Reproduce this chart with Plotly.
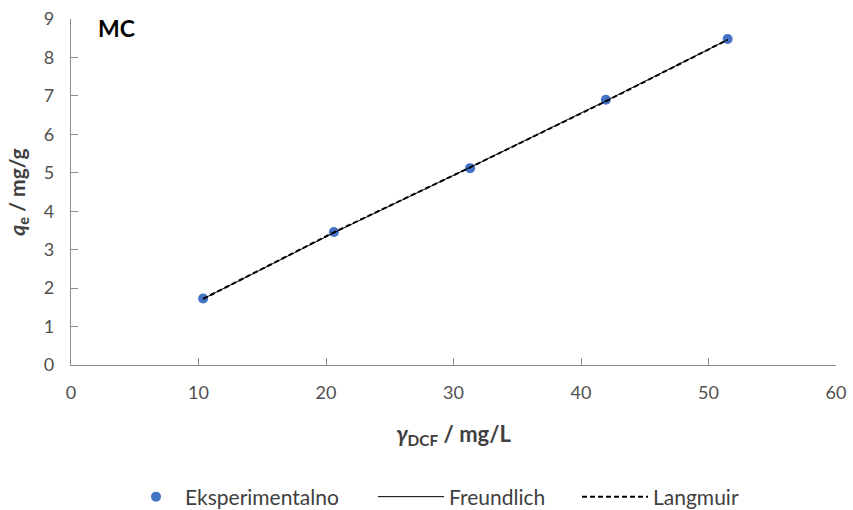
import plotly.graph_objects as go

# Equilibrium concentration of DCF (mg/L) and adsorbed amount (mg/g)
gamma_dcf = [10.36, 20.62, 31.3, 41.95, 51.5]
qe_exp = [1.73, 3.46, 5.12, 6.90, 8.48]

# Model curves evaluated at the same concentrations
qe_freundlich = [1.72, 3.44, 5.14, 6.87, 8.46]
qe_langmuir = [1.72, 3.45, 5.14, 6.86, 8.46]

x_ticks = [0, 10, 20, 30, 40, 50, 60]
y_ticks = [0, 1, 2, 3, 4, 5, 6, 7, 8, 9]

FONT = "Lato, 'Open Sans', sans-serif"
TEXT = "#404040"
TICK_TEXT = "#505050"
AXIS = "#8c8c8c"

fig = go.Figure()
fig.add_trace(go.Scatter(
    x=gamma_dcf, y=qe_exp, mode="markers", name="Eksperimentalno",
    marker=dict(color="#4472C4", size=10), legend="legend",
))
fig.add_trace(go.Scatter(
    x=gamma_dcf, y=qe_freundlich, mode="lines", name="Freundlich",
    line=dict(color="#000000", width=1), legend="legend2",
))
fig.add_trace(go.Scatter(
    x=gamma_dcf, y=qe_langmuir, mode="lines", name="Langmuir",
    line=dict(color="#000000", width=2, dash="5px,3px"), legend="legend3",
))

# plot area spans x 71..836 px, y 19..365 px
L, R, T, B = 71, 836, 19, 365
W, H = 853, 510


def px_x(px):
    return (px - L) / (R - L)


def px_y(py):
    return (B - py) / (B - T)


legend_style = dict(
    orientation="h", yanchor="middle", xanchor="left", y=px_y(497),
    font=dict(size=21, color=TEXT), bgcolor="rgba(0,0,0,0)", borderwidth=0,
)

fig.update_layout(
    width=W, height=H,
    margin=dict(l=L, r=W - R, t=T, b=H - B, autoexpand=False),
    paper_bgcolor="white", plot_bgcolor="white",
    font=dict(family=FONT, color=TEXT, size=18),
    showlegend=True,
    legend=dict(x=px_x(127), itemwidth=48, **legend_style),
    legend2=dict(x=px_x(373), itemwidth=66, **legend_style),
    legend3=dict(x=px_x(577), itemwidth=66, **legend_style),
    xaxis=dict(
        range=[0, 60], tickvals=x_ticks, showgrid=False, zeroline=False,
        showline=True, linecolor=AXIS, linewidth=1.3,
        ticks="inside", ticklen=7, tickcolor=AXIS, tickwidth=1.3,
        tickfont=dict(size=18, color=TICK_TEXT), ticklabelstandoff=11,
        automargin=False,
        title=dict(
            text="<b><i>γ</i><sub>DCF</sub> / mg/L</b>",
            font=dict(size=22, color=TEXT), standoff=24,
        ),
    ),
    yaxis=dict(
        range=[0, 9], tickvals=y_ticks, showgrid=False, zeroline=False,
        showline=True, linecolor=AXIS, linewidth=1.3,
        ticks="inside", ticklen=7, tickcolor=AXIS, tickwidth=1.3,
        tickfont=dict(size=18, color=TICK_TEXT), ticklabelstandoff=12,
        automargin=False,
        title=dict(
            text="<b><i>q</i><sub>e</sub> / mg/g</b>",
            font=dict(size=21, color=TEXT), standoff=12,
        ),
    ),
    annotations=[dict(
        text="<b>MC</b>", x=px_x(96), y=px_y(28), xref="paper", yref="paper",
        xanchor="left", yanchor="middle", showarrow=False,
        font=dict(size=23, color="#000000"),
    )],
)

fig.write_html("out.html")
